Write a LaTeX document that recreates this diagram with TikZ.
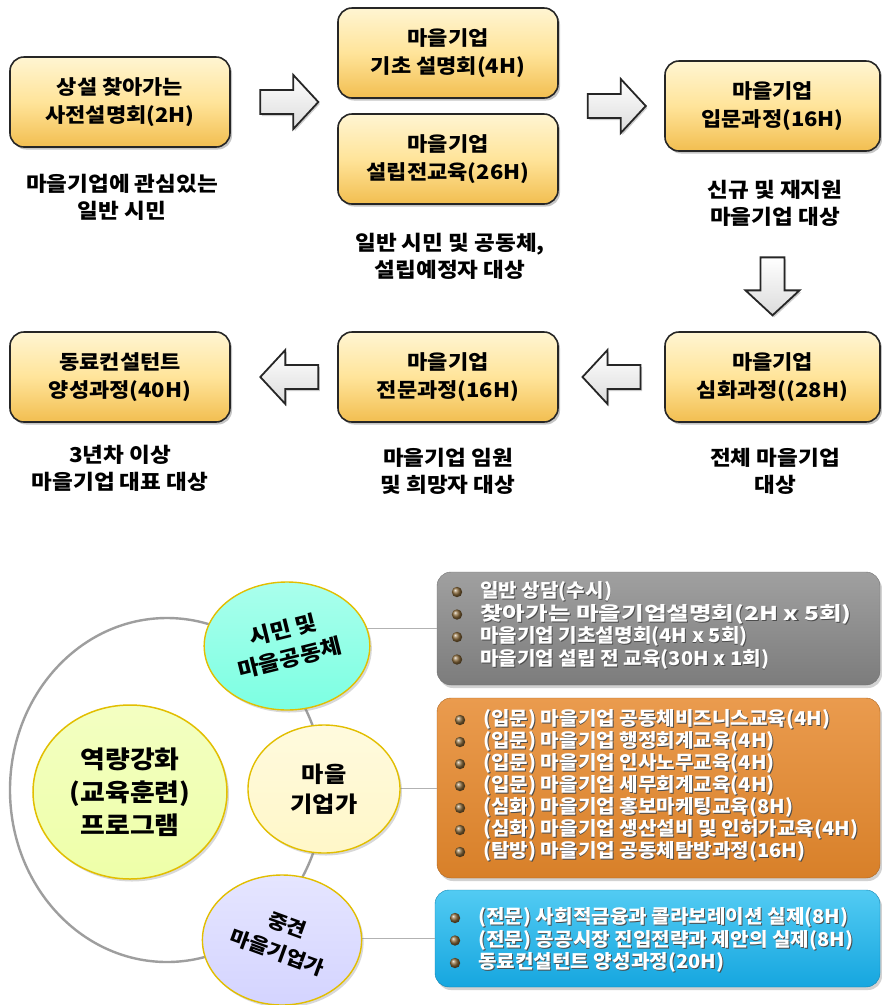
\documentclass[tikz,border=0pt]{standalone}
\usepackage{fontspec}
\setmainfont{Noto Sans CJK KR}
\newfontfamily\krA{Noto Sans CJK KR}[FakeStretch=1.1]
\newfontfamily\krL{Noto Sans CJK KR}[FakeStretch=1.06]
\usetikzlibrary{shapes.geometric,shadows,calc}
\definecolor{goldtop}{HTML}{FFF5D2}
\definecolor{goldmid}{HTML}{FFE49A}
\definecolor{goldbot}{HTML}{F2BE50}
\definecolor{aqua}{HTML}{7CFFE2}
\definecolor{cream}{HTML}{FFF7C8}
\definecolor{lav}{HTML}{D4D4FF}
\definecolor{lime}{HTML}{EEFFA8}
\definecolor{ringgold}{HTML}{E2BE00}
\definecolor{grayA}{HTML}{A0A0A0}
\definecolor{grayB}{HTML}{7C7C7C}
\definecolor{orA}{HTML}{EA9B4E}
\definecolor{orB}{HTML}{D88029}
\definecolor{blA}{HTML}{52CBF3}
\definecolor{blB}{HTML}{16A6DF}
\definecolor{bronze}{HTML}{8A6A3A}
\newcommand\wt[1]{\leavevmode\rlap{\kern0.9pt\raisebox{-0.9pt}{\color{black!70}#1}}{\color{white}#1}}
\begin{document}
\begin{tikzpicture}[x=1pt,y=-1pt,
  stagebox/.style={rounded corners=14pt, draw=black!85, line width=1.6pt,
    top color=goldtop, bottom color=goldbot, middle color=goldmid,
    minimum width=220pt, minimum height=90pt, inner sep=0pt, align=center,
    font=\krA\bfseries\fontsize{20}{28}\selectfont,
    drop shadow={shadow xshift=2pt,shadow yshift=-2.5pt,opacity=0.45}},
  caption/.style={align=center, inner sep=0pt, font=\krA\bfseries\fontsize{20.5}{27}\selectfont},
  blockarrow/.pic={\draw[line width=1.8pt, draw=black!85, top color=white, bottom color=black!14,
      drop shadow={shadow xshift=1.5pt,shadow yshift=-2pt,opacity=0.4}]
      (-29,-12) -- (4,-12) -- (4,-27) -- (29,0) -- (4,27) -- (4,12) -- (-29,12) -- cycle;},
  listbox/.style={rounded corners=14pt, inner sep=0pt,
    drop shadow={shadow xshift=2pt,shadow yshift=-3pt,opacity=0.35}},
  item/.style={anchor=west, inner sep=0pt, font=\krL\bfseries\fontsize{19}{22}\selectfont},
  bullet/.style={ball color=bronze},
  link/.style={draw=black!30, line width=0.9pt},
  sat/.style={ellipse, draw=ringgold, line width=1.4pt, inner sep=0pt, align=center,
    drop shadow={shadow xshift=2pt,shadow yshift=-2.5pt,opacity=0.3}},
]
\useasboundingbox[fill=white] (0,0) rectangle (882,1005);

% ---------- top flow ----------
\node[stagebox] (b1) at (120,102) {상설 찾아가는\\사전설명회(2H)};
\node[stagebox] (b2) at (448,53) {마을기업\\기초 설명회(4H)};
\node[stagebox] (b3) at (448,159) {마을기업\\설립전교육(26H)};
\node[stagebox, minimum width=215pt] (b4) at (772.5,106) {마을기업\\입문과정(16H)};
\node[stagebox] (b5) at (120,377) {동료컨설턴트\\양성과정(40H)};
\node[stagebox] (b6) at (448,377) {마을기업\\전문과정(16H)};
\node[stagebox, minimum width=215pt] (b7) at (772.5,377) {마을기업\\심화과정((28H)};

\node[caption] (c1) at (122,197) {마을기업에 관심있는\\일반 시민};
\node[caption] (c2) at (450,256) {일반 시민 및 공동체,\\설립예정자 대상};
\node[caption] (c4) at (775,203) {신규 및 재지원\\마을기업 대상};
\node[caption] (c5) at (120,468) {3년차 이상\\마을기업 대표 대상};
\node[caption] (c6) at (448,471) {마을기업 임원\\및 희망자 대상};
\node[caption] (c7) at (775,471) {전체 마을기업\\대상};

\pic at ($(b1.east)!0.55!(b2.west |- b1.east)$) {blockarrow};
\pic at ($(b2.east |- b4.west)!0.55!(b4.west)$) {blockarrow};
\pic[rotate=-90] at ($(b4.south)!0.75!(b7.north)$) {blockarrow};
\pic[rotate=180] at ($(b7.west)!0.5!(b6.east)$) {blockarrow};
\pic[rotate=180] at ($(b6.west)!0.45!(b5.east)$) {blockarrow};

% ---------- bottom panel ----------
\node[listbox, draw=black!55, top color=grayA, bottom color=grayB,
  minimum width=443pt, minimum height=113pt] (gbox) at (658.5,628.5) {};
\node[listbox, draw=orB!80!black, top color=orA, bottom color=orB,
  minimum width=443pt, minimum height=180pt] (obox) at (658.5,788) {};
\node[listbox, draw=blB!80!black, top color=blA, bottom color=blB,
  minimum width=445pt, minimum height=97pt] (bbox) at (657.5,938.5) {};

\coordinate (s1c) at (287,646);
\coordinate (s2c) at (324,789);
\coordinate (s3c) at (282,940);

\node[ellipse, draw=black!38, line width=2.4pt, inner sep=0pt,
  minimum width=314pt, minimum height=344pt] (ring) at (167,790) {};
\draw[link] (gbox.west) -- (gbox.west -| s1c);
\draw[link] (obox.west) -- (obox.west -| s2c);
\draw[link] (bbox.west) -- (bbox.west -| s3c);

\node[ellipse, draw=ringgold, line width=1.5pt, inner sep=0pt, align=center,
  top color=lime!70!white, bottom color=lime, minimum width=194pt, minimum height=174pt,
  font=\krA\bfseries\fontsize{24.5}{33}\selectfont,
  drop shadow={shadow xshift=2pt,shadow yshift=-2.5pt,opacity=0.3}] (core) at (130,792)
  {역량강화\\(교육훈련)\\프로그램};

\node[sat, top color=aqua!65!white, bottom color=aqua, minimum width=150pt, minimum height=128pt,
  font=\krA\bfseries\fontsize{21}{29}\selectfont] (s1) at (s1c)
  {\rotatebox{14}{\begin{tabular}{@{}c@{}}시민 및\\마을공동체\end{tabular}}};
\node[sat, top color=cream!60!white, bottom color=cream, minimum width=152pt, minimum height=128pt,
  font=\krA\bfseries\fontsize{22}{30}\selectfont] (s2) at (s2c) {마을\\기업가};
\node[sat, top color=lav!60!white, bottom color=lav, minimum width=146pt, minimum height=130pt,
  font=\krA\bfseries\fontsize{19.5}{29}\selectfont] (s3) at (s3c)
  {\rotatebox{-20}{\begin{tabular}{@{}c@{}}중견\\마을기업가\end{tabular}}};

% gray list
\node[item] (g1) at (480,592) {\wt{일반 상담(수시)}};
\node[item] (g2) at (480,614.5) {\scalebox{1.22}[1]{\wt{찾아가는 마을기업설명회(2H x 5회)}}};
\node[item] (g3) at (480,637) {\wt{마을기업 기초설명회(4H x 5회)}};
\node[item] (g4) at (480,659.5) {\wt{마을기업 설립 전 교육(30H x 1회)}};
\foreach \n in {g1,g2,g3,g4} \shade[bullet] ($(\n.west)+(-23,0)$) circle (5.2pt);

% orange list
\node[item] (o1) at (483,720) {\wt{(입문) 마을기업 공동체비즈니스교육(4H)}};
\node[item] (o2) at (483,742) {\wt{(입문) 마을기업 행정회계교육(4H)}};
\node[item] (o3) at (483,764) {\wt{(입문) 마을기업 인사노무교육(4H)}};
\node[item] (o4) at (483,786) {\wt{(입문) 마을기업 세무회계교육(4H)}};
\node[item] (o5) at (483,808) {\wt{(심화) 마을기업 홍보마케팅교육(8H)}};
\node[item] (o6) at (483,830) {\wt{(심화) 마을기업 생산설비 및 인허가교육(4H)}};
\node[item] (o7) at (483,852) {\wt{(탐방) 마을기업 공동체탐방과정(16H)}};
\foreach \n in {o1,o2,o3,o4,o5,o6,o7} \shade[bullet] ($(\n.west)+(-23,0)$) circle (5.2pt);

% blue list
\node[item] (l1) at (478,918) {\wt{(전문) 사회적금융과 콜라보레이션 실제(8H)}};
\node[item] (l2) at (478,940.5) {\wt{(전문) 공공시장 진입전략과 제안의 실제(8H)}};
\node[item] (l3) at (478,963) {\wt{동료컨설턴트 양성과정(20H)}};
\foreach \n in {l1,l2,l3} \shade[bullet] ($(\n.west)+(-23,0)$) circle (5.2pt);
\end{tikzpicture}
\end{document}
